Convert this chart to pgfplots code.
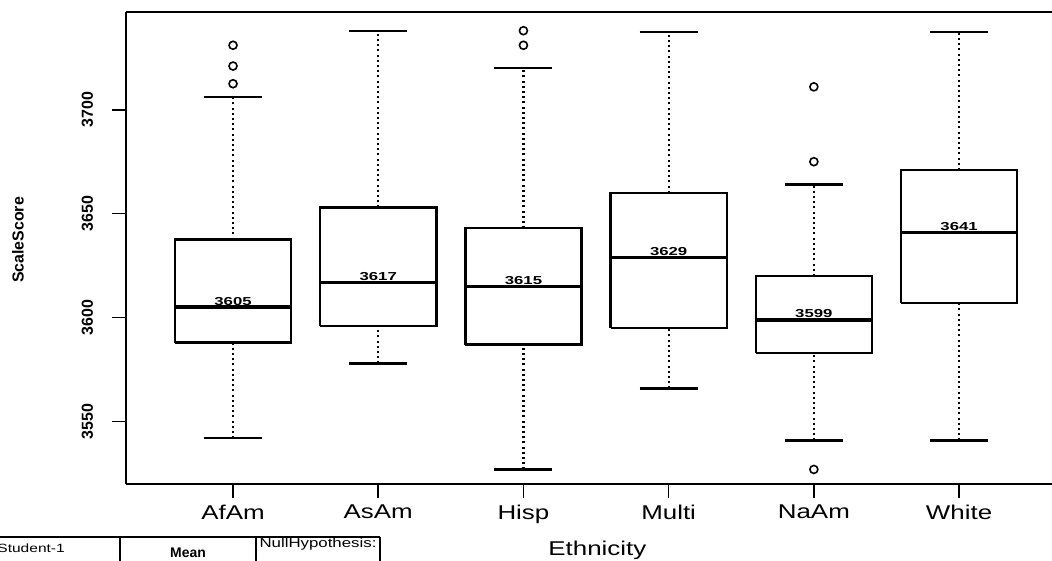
\documentclass[border=0pt]{standalone}
\usepackage{fontspec}
\setmainfont{Liberation Sans}
\newfontfamily\wide[FakeStretch=1.3]{Liberation Sans}
\newfontfamily\wider[FakeStretch=1.45]{Liberation Sans}
\usepackage{pgfplots}
\pgfplotsset{compat=1.18}

\begin{document}
\begin{tikzpicture}
\begin{axis}[
  at={(63bp,38.5bp)}, anchor=south west,
  scale only axis, width=463bp, height=236bp,
  xmin=0.263, xmax=6.64, ymin=3520, ymax=3747,
  clip=false,
  axis x line*=bottom, axis y line*=left,
  axis line style={-, line width=1bp, black},
  tick align=outside,
  major tick length=7bp,
  tick style={black, line width=0.8bp},
  /pgf/number format/assume math mode=true,
  /pgf/number format/1000 sep={},
  xtick={1,2,3,4,5,6},
  xticklabels={AfAm,AsAm,Hisp,Multi,NaAm,White},
  xticklabel style={font=\wide\fontsize{10}{12}\selectfont},
  ytick={3550,3600,3650,3700},
  yticklabel style={rotate=90, anchor=south, font=\bfseries\fontsize{8}{10}\selectfont},
  yticklabel shift=6bp,
  xlabel={Ethnicity},
  xlabel style={font=\wide\fontsize{10}{12}\selectfont, at={(axis description cs:0.509,-0.14)}, anchor=center},
  ylabel={ScaleScore},
  ylabel style={font=\bfseries\fontsize{8}{10}\selectfont, at={(axis description cs:-0.1166,0.517)}, anchor=center},
  unbounded coords=jump,
]
% dotted whiskers: lower whisker -> Q1, Q3 -> upper whisker
\addplot[black, line width=1.1bp, dash pattern=on 1bp off 1.6bp, no marks] coordinates {
  (1,3542) (1,3588) (nan,nan) (1,3637.5) (1,3706) (nan,nan)
  (2,3578) (2,3596) (nan,nan) (2,3653) (2,3738) (nan,nan)
  (3,3527) (3,3587) (nan,nan) (3,3643) (3,3720) (nan,nan)
  (4,3566) (4,3595) (nan,nan) (4,3660) (4,3737.5) (nan,nan)
  (5,3541) (5,3583) (nan,nan) (5,3620) (5,3664) (nan,nan)
  (6,3541) (6,3607) (nan,nan) (6,3671) (6,3737.5)
};
% whisker caps
\addplot[black, line width=1.2bp, no marks] coordinates {
  (0.8,3706) (1.2,3706) (nan,nan) (0.8,3542) (1.2,3542) (nan,nan)
  (1.8,3738) (2.2,3738) (nan,nan) (1.8,3578) (2.2,3578) (nan,nan)
  (2.8,3720) (3.2,3720) (nan,nan) (2.8,3527) (3.2,3527) (nan,nan)
  (3.8,3737.5) (4.2,3737.5) (nan,nan) (3.8,3566) (4.2,3566) (nan,nan)
  (4.8,3664) (5.2,3664) (nan,nan) (4.8,3541) (5.2,3541) (nan,nan)
  (5.8,3737.5) (6.2,3737.5) (nan,nan) (5.8,3541) (6.2,3541)
};
% boxes Q1..Q3
\addplot[black, line width=1.2bp, no marks, line join=miter] coordinates {
  (0.6,3588) (1.4,3588) (1.4,3637.5) (0.6,3637.5) (0.6,3588) (nan,nan)
  (1.6,3596) (2.4,3596) (2.4,3653) (1.6,3653) (1.6,3596) (nan,nan)
  (2.6,3587) (3.4,3587) (3.4,3643) (2.6,3643) (2.6,3587) (nan,nan)
  (3.6,3595) (4.4,3595) (4.4,3660) (3.6,3660) (3.6,3595) (nan,nan)
  (4.6,3583) (5.4,3583) (5.4,3620) (4.6,3620) (4.6,3583) (nan,nan)
  (5.6,3607) (6.4,3607) (6.4,3671) (5.6,3671) (5.6,3607)
};
% medians
\addplot[black, line width=1.8bp, no marks] coordinates {
  (0.6,3605) (1.4,3605) (nan,nan)
  (1.6,3617) (2.4,3617) (nan,nan)
  (2.6,3615) (3.4,3615) (nan,nan)
  (3.6,3629) (4.4,3629) (nan,nan)
  (4.6,3599) (5.4,3599) (nan,nan)
  (5.6,3641) (6.4,3641)
};
% outliers
\addplot[only marks, mark=o, mark size=2bp, mark options={line width=0.8bp, black}] coordinates {
  (1,3712.5) (1,3721) (1,3731)
  (3,3731) (3,3738)
  (5,3711) (5,3675) (5,3527)
};
% median labels
\begin{scope}[every node/.style={font=\wider\bfseries\fontsize{5.8}{6}\selectfont, anchor=south, inner sep=0.8bp}]
\node at (axis cs:1,3605) {3605};
\node at (axis cs:2,3617) {3617};
\node at (axis cs:3,3615) {3615};
\node at (axis cs:4,3629) {3629};
\node at (axis cs:5,3599) {3599};
\node at (axis cs:6,3641) {3641};
\end{scope}
\draw[line width=1bp, black] (rel axis cs:0,1) -- (rel axis cs:1,1);
\end{axis}
\begin{scope}
\clip (0bp,0bp) rectangle (526bp,280.5bp);
\draw[line width=0.6bp] (0bp,12bp) -- (190bp,12bp);
\draw[line width=0.6bp] (60bp,0bp) -- (60bp,12bp) (128bp,0bp) -- (128bp,12bp) (190bp,0bp) -- (190bp,12bp);
\node[font=\wide\fontsize{6}{7}\selectfont, anchor=west, inner sep=0] at (-1.5bp,6.5bp) {Student-1};
\node[font=\bfseries\fontsize{7}{8}\selectfont, inner sep=0] at (94bp,4bp) {Mean};
\node[font=\wide\fontsize{6.5}{7}\selectfont, inner sep=0] at (159bp,8.5bp) {NullHypothesis:};
\end{scope}
\pgfresetboundingbox
\path (0bp,0bp) rectangle (526bp,280.5bp);
\end{tikzpicture}
\end{document}
